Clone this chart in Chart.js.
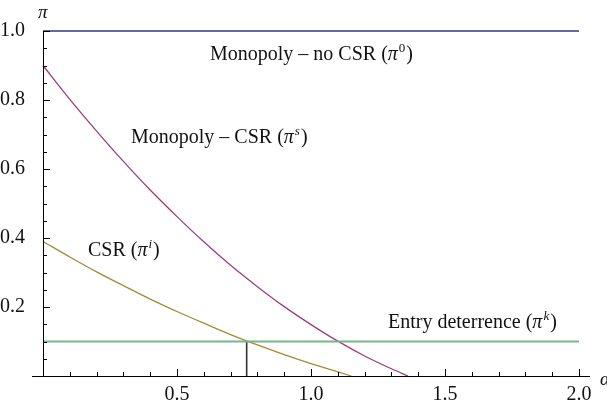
<!DOCTYPE html>
<html>
<head>
<meta charset="utf-8">
<script src="https://cdn.jsdelivr.net/npm/chart.js@4.4.0/dist/chart.umd.min.js"></script>
<style>
  html, body { margin: 0; padding: 0; background: #fff; }
  canvas { display: block; }
</style>
</head>
<body>
<canvas id="chart" width="607" height="406"></canvas>
<script>
// curves
const xS = [0, 0.1, 0.2, 0.3, 0.4, 0.5, 0.6, 0.7, 0.8, 0.9, 1.0, 1.1, 1.2, 1.3, 1.362];
const piS = [0.9, 0.802, 0.71, 0.622, 0.539, 0.462, 0.389, 0.321, 0.259, 0.201, 0.149, 0.101, 0.058, 0.021, 0];
const xI = [0, 0.1, 0.2, 0.3, 0.4, 0.5, 0.6, 0.7, 0.8, 0.9, 1.0, 1.1, 1.15];
const piI = [0.39, 0.345, 0.302, 0.262, 0.223, 0.187, 0.153, 0.12, 0.09, 0.062, 0.036, 0.012, 0];
const pi0 = 1.0;
const piK = 0.1;
const xRange = [0, 2.0];
const alphaStar = 0.76;

const xTicks = [0.5, 1.0, 1.5, 2.0];
const yTicks = [0.2, 0.4, 0.6, 0.8, 1.0];

const serif = "'Liberation Serif', 'DejaVu Serif', serif";

const toPts = (xs, ys) => xs.map((v, i) => ({ x: v, y: ys[i] }));

const line = (data, color, width) => ({
  data: data,
  borderColor: color,
  borderWidth: width,
  pointRadius: 0,
  showLine: true,
  fill: false,
  clip: false,
  cubicInterpolationMode: "monotone",
});

// axes, ticks and labels the way Mathematica draws them
const mmaAxes = {
  id: "mmaAxes",
  afterDatasetsDraw(chart) {
    const { ctx } = chart;
    const x = chart.scales.x;
    const y = chart.scales.y;
    const x0 = x.getPixelForValue(0);
    const y0 = y.getPixelForValue(0);

    ctx.save();
    ctx.strokeStyle = "#000";
    ctx.lineWidth = 1;
    ctx.beginPath();
    ctx.moveTo(x0 - 11, y0 + 0.5);
    ctx.lineTo(x.getPixelForValue(2.0) + 11, y0 + 0.5);
    ctx.moveTo(x0 + 0.5, y0);
    ctx.lineTo(x0 + 0.5, y.getPixelForValue(1.0));
    for (let i = 1; i <= 20; i++) {
      const px = Math.round(x.getPixelForValue(i / 10)) + 0.5;
      const len = i % 5 === 0 ? 7 : 4;
      ctx.moveTo(px, y0);
      ctx.lineTo(px, y0 - len);
    }
    for (let i = 1; i <= 20; i++) {
      const py = Math.round(y.getPixelForValue(i / 20)) + 0.5;
      const len = i % 4 === 0 ? 7 : 4;
      ctx.moveTo(x0, py);
      ctx.lineTo(x0 + len, py);
    }
    ctx.stroke();

    ctx.fillStyle = "#111";
    ctx.textBaseline = "alphabetic";
    const label = (left, base, text, sup, supItalic) => {
      ctx.font = "20px " + serif;
      ctx.fillText(text, left, base);
      let w = ctx.measureText(text).width;
      ctx.font = "italic 20px " + serif;
      ctx.fillText("\u03C0", left + w, base);
      w += ctx.measureText("\u03C0").width;
      ctx.font = (supItalic ? "italic " : "") + "13px " + serif;
      ctx.fillText(sup, left + w + 1, base - 8);
      w += ctx.measureText(sup).width + 2;
      ctx.font = "20px " + serif;
      ctx.fillText(")", left + w, base);
    };
    label(210, 60, "Monopoly \u2013 no CSR (", "0", false);
    label(131, 143, "Monopoly \u2013 CSR (", "s", true);
    label(88, 256, "CSR (", "i", true);
    label(388, 328, "Entry deterrence (", "k", true);

    ctx.font = "italic 19px " + serif;
    ctx.fillText("\u03C0", 38, 18);
    ctx.fillText("\u03B1", 600, 385);
    ctx.restore();
  },
};

new Chart(document.getElementById("chart"), {
  type: "scatter",
  data: {
    datasets: [
      line(xRange.map((v) => ({ x: v, y: pi0 })), "#35358a", 1.3),
      line(xRange.map((v) => ({ x: v, y: piK })), "#72b88a", 2),
      line(toPts(xS, piS), "#a03c7c", 1.3),
      line(toPts(xI, piI), "#a08c34", 1.3),
      line([{ x: alphaStar, y: 0 }, { x: alphaStar, y: piK }], "#333333", 1.6),
    ],
  },
  options: {
    responsive: false,
    animation: false,
    devicePixelRatio: 1,
    layout: { padding: { top: 31, right: 28, left: 0, bottom: 0 } },
    plugins: { legend: { display: false }, tooltip: { enabled: false } },
    scales: {
      x: {
        type: "linear",
        min: 0,
        max: 2,
        grid: { display: false },
        border: { display: false },
        afterBuildTicks: (s) => { s.ticks = xTicks.map((v) => ({ value: v })); },
        afterFit: (s) => { s.height = 30; },
        ticks: {
          padding: -1,
          color: "#111",
          font: { family: serif, size: 20 },
          callback: (v) => Number(v).toFixed(1),
        },
      },
      y: {
        type: "linear",
        min: 0,
        max: 1,
        grid: { display: false },
        border: { display: false },
        afterBuildTicks: (s) => { s.ticks = yTicks.map((v) => ({ value: v })); },
        afterFit: (s) => { s.width = 43; },
        ticks: {
          padding: 10,
          color: "#111",
          font: { family: serif, size: 20 },
          callback: (v) => Number(v).toFixed(1),
        },
      },
    },
  },
  plugins: [mmaAxes],
});
</script>
</body>
</html>
